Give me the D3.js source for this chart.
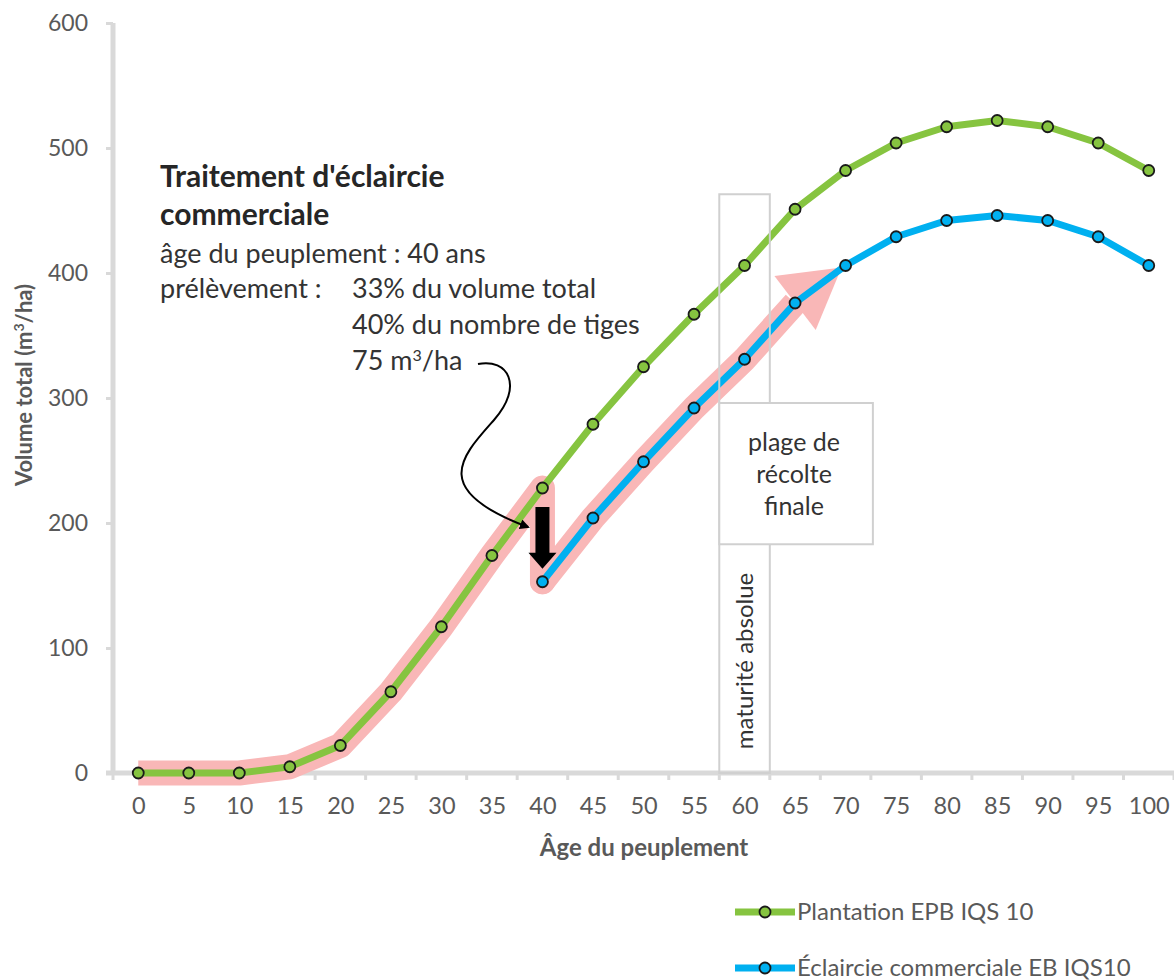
<!DOCTYPE html>
<meta charset="utf-8">
<script src="https://d3js.org/d3.v7.min.js"></script>
<style>
  body { margin: 0; background: #fff; }
  text { font-family: Lato, "Open Sans", sans-serif; }
</style>
<div id="chart"></div>
<script>

// ages on the category axis
var ages = [0, 5, 10, 15, 20, 25, 30, 35, 40, 45, 50, 55, 60, 65, 70, 75, 80, 85, 90, 95, 100];
// Plantation EPB IQS 10
var plantation = [0, 0, 0, 5, 22, 65, 117, 174, 228, 279, 325, 367, 406, 451, 482, 504, 517, 522, 517, 504, 482];
// Éclaircie commerciale EB IQS10 (starts at 40 ans)
var eclaircieAges = [40, 45, 50, 55, 60, 65, 70, 75, 80, 85, 90, 95, 100];
var eclaircie = [153, 204, 249, 292, 331, 376, 406, 429, 442, 446, 442, 429, 406];
var yTicks = [0, 100, 200, 300, 400, 500, 600];

var seriesNames = ["Plantation EPB IQS 10", "Éclaircie commerciale EB IQS10"];
var seriesColors = ["#86c440", "#00b0f0"];

var W = 1174, H = 980;
var svg = d3.select("#chart").append("svg")
    .attr("width", W)
    .attr("height", H);

var x = d3.scalePoint().domain(ages).range([113, 1174]).padding(0.5);
var y = d3.scaleLinear().domain([0, 600]).range([773, 23]);
// continuous version of the age axis, for the boxes and annotations
var xl = d3.scaleLinear().domain([0, 100]).range([x(0), x(100)]);

var plantPts = ages.map(function(a, i) { return [a, plantation[i]]; });
var eclPts = eclaircieAges.map(function(a, i) { return [a, eclaircie[i]]; });

// Y axis
var yAxis = svg.append("g")
    .attr("transform", "translate(113,0)")
    .call(d3.axisLeft(y).tickValues(yTicks).tickSize(7).tickPadding(18));
yAxis.select(".domain").remove();
yAxis.selectAll(".tick line").attr("stroke", "#d9d9d9").attr("stroke-width", 3);
yAxis.selectAll(".tick text")
    .attr("fill", "#595959")
    .style("font-size", "23px");
svg.append("line")
    .attr("x1", 113).attr("x2", 113)
    .attr("y1", y(600)).attr("y2", y(0) + 2)
    .attr("stroke", "#d9d9d9").attr("stroke-width", 5);

// X axis (labels on categories, tick marks between them)
var xAxis = svg.append("g")
    .attr("transform", "translate(0," + y(0) + ")")
    .call(d3.axisBottom(x).tickSize(0).tickPadding(24));
xAxis.select(".domain").remove();
xAxis.selectAll(".tick text")
    .attr("fill", "#595959")
    .style("font-size", "23.5px");
var step = x.step();
svg.append("g").selectAll("line")
    .data(d3.range(ages.length + 1))
    .enter().append("line")
    .attr("x1", function(k) { return 113 + k * step; })
    .attr("x2", function(k) { return 113 + k * step; })
    .attr("y1", y(0)).attr("y2", y(0) + 7)
    .attr("stroke", "#d9d9d9").attr("stroke-width", 3);
svg.append("line")
    .attr("x1", 106).attr("x2", 1174)
    .attr("y1", y(0)).attr("y2", y(0))
    .attr("stroke", "#d9d9d9").attr("stroke-width", 5);

// axis titles
svg.append("text")
    .attr("x", 644).attr("y", 856)
    .attr("text-anchor", "middle")
    .attr("fill", "#595959")
    .style("font-size", "24px").style("font-weight", "bold")
    .text("Âge du peuplement");
svg.append("text")
    .attr("transform", "translate(32,385) rotate(-90)")
    .attr("text-anchor", "middle")
    .attr("fill", "#595959")
    .style("font-size", "22px").style("font-weight", "bold")
    .html("Volume total (m<tspan baseline-shift='super' font-size='14px'>3</tspan>/ha)");

// pink highlight band: plantation up to 40 ans, drop, then éclaircie up to 65 ans
var bandPts = plantPts.filter(function(d) { return d[0] <= 40; })
    .concat(eclPts.filter(function(d) { return d[0] <= 65; }));
var line = d3.line()
    .x(function(d) { return x(d[0]); })
    .y(function(d) { return y(d[1]); });
var bandColor = "#f9b7b7";
svg.append("path")
    .attr("d", line(bandPts))
    .attr("fill", "none")
    .attr("stroke", bandColor)
    .attr("stroke-width", 25)
    .attr("stroke-linejoin", "round");
// rounded end of the drop
svg.append("circle")
    .attr("cx", x(40)).attr("cy", y(eclaircie[0]))
    .attr("r", 12.5).attr("fill", bandColor);
// arrow head of the band, from 65 toward 70 ans
(function() {
  var b = [x(65), y(eclaircie[5])], t = [x(70) - 4, y(eclaircie[6]) + 2];
  var dx = t[0] - b[0], dy = t[1] - b[1], len = Math.hypot(dx, dy);
  var px = -dy / len * 34, py = dx / len * 34;
  svg.append("path")
    .attr("d", "M" + t[0] + "," + t[1] + "L" + (b[0] + px) + "," + (b[1] + py) +
               "L" + (b[0] - px) + "," + (b[1] - py) + "Z")
    .attr("fill", bandColor);
})();

// series lines
[plantPts, eclPts].forEach(function(pts, i) {
  svg.append("path")
    .attr("d", line(pts))
    .attr("fill", "none")
    .attr("stroke", seriesColors[i])
    .attr("stroke-width", 7)
    .attr("stroke-linejoin", "round");
});

// "maturité absolue" box (drawn over the lines, as in the original)
svg.append("rect")
    .attr("x", xl(57.5)).attr("y", y(463))
    .attr("width", xl(62.5) - xl(57.5)).attr("height", y(0) - y(463))
    .attr("fill", "none")
    .attr("stroke", "#d0d0d0").attr("stroke-width", 2);
svg.append("text")
    .attr("transform", "translate(" + (xl(60) + 8) + "," + 661 + ") rotate(-90)")
    .attr("text-anchor", "middle")
    .attr("fill", "#333")
    .style("font-size", "24px")
    .text("maturité absolue");

// markers
[plantPts, eclPts].forEach(function(pts, i) {
  svg.append("g").selectAll("circle")
    .data(pts)
    .enter().append("circle")
    .attr("cx", function(d) { return x(d[0]); })
    .attr("cy", function(d) { return y(d[1]); })
    .attr("r", 5.5)
    .attr("fill", seriesColors[i])
    .attr("stroke", "#1a1a1a")
    .attr("stroke-width", 1.8);
});

// "plage de récolte finale" box
svg.append("rect")
    .attr("x", xl(57.5)).attr("y", y(296))
    .attr("width", xl(72.7) - xl(57.5)).attr("height", y(183) - y(296))
    .attr("fill", "#fff")
    .attr("stroke", "#d0d0d0").attr("stroke-width", 2);
var plage = svg.append("text")
    .attr("text-anchor", "middle")
    .attr("fill", "#333")
    .style("font-size", "25px");
["plage de", "récolte", "finale"].forEach(function(s, i) {
  plage.append("tspan").attr("x", 794).attr("y", 451 + i * 32).text(s);
});

// black drop arrow at 40 ans
(function() {
  var cx = x(40), top = y(plantation[8]) + 19, tip = y(eclaircie[0]) - 13, head = tip - 16;
  svg.append("path")
    .attr("d", "M" + (cx - 7) + "," + top + "H" + (cx + 7) + "V" + head + "H" + (cx + 14) +
               "L" + cx + "," + tip + "L" + (cx - 14) + "," + head + "H" + (cx - 7) + "Z")
    .attr("fill", "#000");
})();

// annotation text
var ann = svg.append("g").attr("fill", "#262626");
ann.append("text").attr("x", 160).attr("y", 187)
    .style("font-size", "30px").style("font-weight", "bold")
    .text("Traitement d'éclaircie");
ann.append("text").attr("x", 160).attr("y", 225)
    .style("font-size", "30px").style("font-weight", "bold")
    .text("commerciale");
ann.append("text").attr("x", 160).attr("y", 263)
    .style("font-size", "27px").attr("fill", "#333")
    .text("âge du peuplement : 40 ans");
ann.append("text").attr("x", 160).attr("y", 298)
    .style("font-size", "27px").attr("fill", "#333")
    .text("prélèvement :");
ann.append("text").attr("x", 352).attr("y", 298)
    .style("font-size", "27px").attr("fill", "#333")
    .text("33% du volume total");
ann.append("text").attr("x", 352).attr("y", 334)
    .style("font-size", "27px").attr("fill", "#333")
    .text("40% du nombre de tiges");
ann.append("text").attr("x", 352).attr("y", 370)
    .style("font-size", "27px").attr("fill", "#333")
    .html("75 m<tspan baseline-shift='super' font-size='16px'>3</tspan>/ha");

// curved pointer from the note to the drop
svg.append("defs").append("marker")
    .attr("id", "tip")
    .attr("viewBox", "0 0 10 10")
    .attr("refX", 8).attr("refY", 5)
    .attr("markerWidth", 5).attr("markerHeight", 5)
    .attr("orient", "auto")
  .append("path")
    .attr("d", "M0,0L10,5L0,10Z")
    .attr("fill", "#000");
svg.append("path")
    .attr("d", "M478,364 C508,358 524,386 494,420 C462,456 428,490 528,527")
    .attr("fill", "none")
    .attr("stroke", "#000")
    .attr("stroke-width", 2)
    .attr("marker-end", "url(#tip)");

// legend
var legend = svg.append("g");
seriesNames.forEach(function(name, i) {
  var ly = 912 + i * 56;
  legend.append("line")
    .attr("x1", 735).attr("x2", 795)
    .attr("y1", ly).attr("y2", ly)
    .attr("stroke", seriesColors[i]).attr("stroke-width", 7);
  legend.append("circle")
    .attr("cx", 765).attr("cy", ly).attr("r", 5.5)
    .attr("fill", seriesColors[i])
    .attr("stroke", "#1a1a1a").attr("stroke-width", 1.8);
  legend.append("text")
    .attr("x", 797).attr("y", ly)
    .attr("dy", "0.35em")
    .attr("fill", "#595959")
    .style("font-size", "24px")
    .text(name);
});

</script>
